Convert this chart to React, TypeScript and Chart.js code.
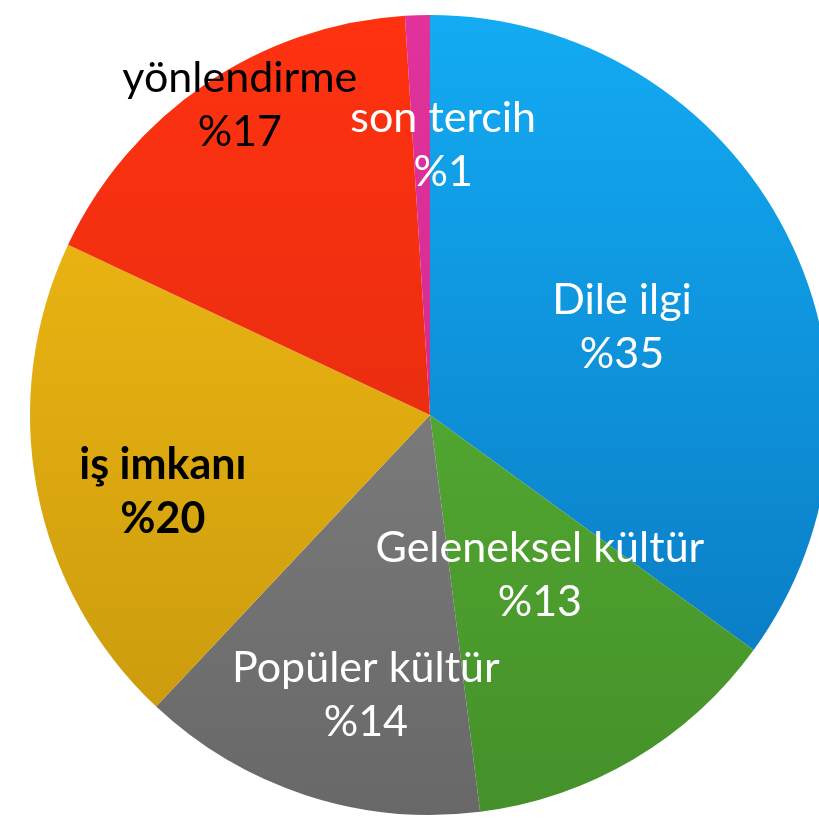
import React, { useEffect, useRef } from "react";
import { Chart, registerables } from "chart.js";

Chart.register(...registerables);

const categories = ["Dile ilgi", "Geleneksel kültür", "Popüler kültür", "iş imkanı", "yönlendirme", "son tercih"];
const values = [35, 13, 14, 20, 17, 1];
const percentLabels = ["%35", "%13", "%14", "%20", "%17", "%1"];
const topColors = ["#13ABF3", "#5DBB37", "#8C8C8C", "#F6BE14", "#FF3210", "#E2329C"];
const bottomColors = ["#0873BB", "#45902A", "#686868", "#C6970C", "#D62A10", "#C42686"];
const labelColors = ["#FFFFFF", "#FFFFFF", "#FFFFFF", "#000000", "#000000", "#FFFFFF"];
const labelBold = [false, false, false, true, false, false];
const labelRadius = [0.528, 0.485, 0.718, 0.695, 0.91, 0.675];
const labelAngleShift = [2.4, -3.9, -5.1, -5.3, 2.7, 4.6];

const labelPlugin = {
  id: "sliceLabels",
  afterDatasetsDraw(chart: any) {
    const ctx = chart.ctx;
    const meta = chart.getDatasetMeta(0);
    meta.data.forEach((arc: any, i: number) => {
      const { x, y, startAngle, endAngle, outerRadius } = arc.getProps(
        ["x", "y", "startAngle", "endAngle", "outerRadius"],
        true
      );
      const mid = (startAngle + endAngle) / 2 + (labelAngleShift[i] * Math.PI) / 180;
      const r = outerRadius * labelRadius[i];
      const cx = x + Math.cos(mid) * r;
      const cy = y + Math.sin(mid) * r;
      ctx.save();
      ctx.fillStyle = labelColors[i];
      ctx.font = `${labelBold[i] ? "bold " : ""}43px Lato, "Open Sans", sans-serif`;
      ctx.textAlign = "center";
      ctx.textBaseline = "middle";
      ctx.fillText(categories[i], cx, cy - 27);
      ctx.fillText(percentLabels[i], cx, cy + 27);
      ctx.restore();
    });
  },
};

export default function App() {
  const ref = useRef<HTMLCanvasElement | null>(null);
  useEffect(() => {
    if (!ref.current) return;
    const chart = new Chart(ref.current, {
      type: "pie",
      data: {
        labels: categories,
        datasets: [
          {
            data: values,
            borderWidth: 0,
            backgroundColor: (c: any) => {
              const area = c.chart.chartArea;
              const i = c.dataIndex;
              if (!area) return topColors[i];
              const g = c.chart.ctx.createLinearGradient(0, area.top, 0, area.bottom);
              g.addColorStop(0, topColors[i]);
              g.addColorStop(1, bottomColors[i]);
              return g;
            },
          },
        ],
      },
      options: {
        responsive: false,
        animation: false,
        layout: { padding: { left: 30, top: 15, right: 50, bottom: 45 } },
        plugins: {
          legend: { display: false },
          tooltip: { enabled: false },
        },
      },
      plugins: [labelPlugin],
    });
    return () => chart.destroy();
  }, []);
  return (
    <div
      style={{
        position: "fixed",
        left: 0,
        top: 0,
        width: 819,
        height: 821,
        overflow: "hidden",
        background: "#FFFFFF",
      }}
    >
      <canvas ref={ref} width={880} height={860} style={{ display: "block", width: 880, height: 860 }} />
    </div>
  );
}
